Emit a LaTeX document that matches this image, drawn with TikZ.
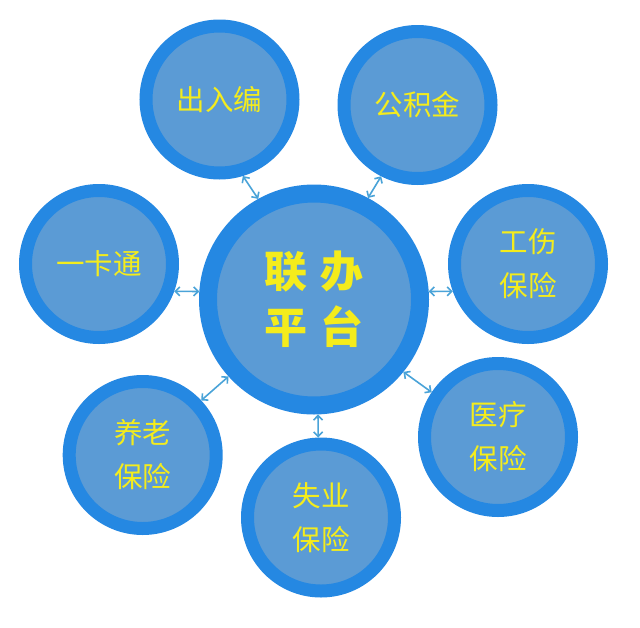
\documentclass[tikz,border=0pt]{standalone}
\usepackage{fontspec}
\newfontfamily\cjk{Noto Sans CJK SC}
\usetikzlibrary{arrows.meta}
\definecolor{ringblue}{HTML}{2588E2}
\definecolor{fillblue}{HTML}{5B9BD5}
\definecolor{textyellow}{HTML}{F4EC1C}
\definecolor{linkblue}{HTML}{4AA3D8}
\begin{document}
\begin{tikzpicture}[x=1pt, y=-1pt]

      \tikzstyle{hub_style} = [circle, draw=ringblue, fill=fillblue, line width=18pt, minimum size=212pt, inner sep=0pt, text=textyellow, align=center, font=\cjk\bfseries\fontsize{43}{56}\selectfont]
        \tikzstyle{sat_style} = [circle, draw=ringblue, fill=fillblue, line width=13pt, minimum size=147pt, inner sep=0pt, text=textyellow, align=center, font=\cjk\fontsize{28.5}{44}\selectfont]
            \tikzstyle{link_style} = [linkblue, line width=1.6pt, {Straight Barb[length=4.5pt,width=9pt]}-{Straight Barb[length=4.5pt,width=9pt]}]

      \useasboundingbox (0,0) rectangle (640,627);

            \draw
              (314.0, 299.5) node[hub_style] (0){联\hspace{14pt}办\\平\hspace{14pt}台}
              (219.5, 99.5) node[sat_style] (1){出入编}
              (417.5, 105.0) node[sat_style] (2){公积金}
              (99.0, 264.0) node[sat_style] (3){一卡通}
              (528.0, 264.0) node[sat_style] (4){工伤\\保险}
              (142.7, 455.0) node[sat_style] (5){养老\\保险}
              (321.0, 517.5) node[sat_style] (6){失业\\保险}
              (498.0, 437.0) node[sat_style] (7){医疗\\保险};

      \begin{scope}[link_style]
        \draw (1.-73) to (0.119);
        \draw (2.-117) to (0.62);
        \draw (3.-20) to (0.176);
        \draw (4.-160) to (0.4);
        \draw (5.43) to (0.-138);
        \draw (6.92) to (0.-88);
        \draw (7.146) to (0.-39);
      \end{scope}
    \end{tikzpicture}
\end{document}
